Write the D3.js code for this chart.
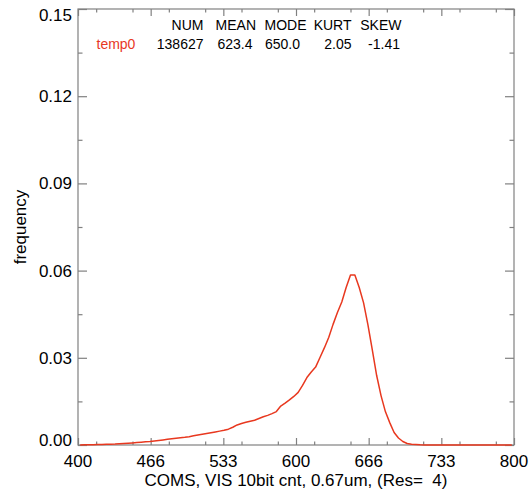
<!DOCTYPE html>
<html>
<head>
<meta charset="utf-8">
<script src="https://cdn.jsdelivr.net/npm/d3@7/dist/d3.min.js"></script>
<style>
  html, body { margin: 0; padding: 0; background: #fff; }
  svg text { font-family: "Liberation Sans", Arial, Helvetica, sans-serif; }
</style>
</head>
<body>
<svg id="chart" width="532" height="490"></svg>
<script>
// Histogram bin centres (Res = 4 counts) and relative frequency per bin
const binCenters = d3.range(402, 800, 4);
const frequency = [
  0.00001, 0.00005, 0.0001, 0.00012, 0.00015, 0.00018, 0.00022, 0.00026, 0.00031, 0.0004,   // 402-438
  0.0005, 0.0006, 0.0007, 0.00083, 0.00097, 0.0011, 0.0012, 0.0014, 0.00156, 0.00174,      // 442-478
  0.00194, 0.00215, 0.00232, 0.00249, 0.00265, 0.00285, 0.00317, 0.00347, 0.00372, 0.00397, // 482-518
  0.00424, 0.0045, 0.00477, 0.00505, 0.00545, 0.0061, 0.0069, 0.0074, 0.0078, 0.0082,       // 522-558
  0.00853, 0.0091, 0.0097, 0.0102, 0.0108, 0.0115, 0.0134, 0.0144, 0.0155, 0.0167,          // 562-598
  0.0181, 0.0205, 0.0232, 0.0251, 0.0268, 0.0301, 0.0334, 0.037, 0.0415, 0.0456,            // 602-638
  0.0492, 0.0542, 0.0585, 0.0585, 0.0542, 0.0489, 0.0413, 0.0327, 0.0239, 0.017,            // 642-678
  0.0115, 0.0077, 0.0043, 0.0024, 0.0012, 0.0005, 0.00024, 0.00014, 0.00007, 0.00004,       // 682-718
  0.00003, 0.00002, 0.00002, 0.00001, 0.00001, 0.00001, 0.00001, 0.00001, 0.00001, 0,       // 722-758
  0, 0, 0, 0, 0, 0, 0, 0, 0, 0                                                              // 762-798
];

// Axis ticks
const xTickValues = [400, 1400 / 3, 1600 / 3, 600, 2000 / 3, 2200 / 3, 800];
const xTickLabels = ["400", "466", "533", "600", "666", "733", "800"];
const yTickValues = [0, 0.03, 0.06, 0.09, 0.12, 0.15];
const yTickLabels = ["0.00", "0.03", "0.06", "0.09", "0.12", "0.15"];

// Statistics table
const statNames = ["NUM", "MEAN", "MODE", "KURT", "SKEW"];
const statValues = ["138627", "623.4", "650.0", "2.05", "-1.41"];
const seriesName = "temp0";

const xTitle = "COMS, VIS 10bit cnt, 0.67um, (Res=  4)";
const yTitle = "frequency";

// ---- layout ----
const plot = { left: 78, top: 9, right: 514, bottom: 445 };
const axisColor = "#808080";
const lineColor = "#e8381f";
const tickFont = 17;

const svg = d3.select("#chart");

const x = d3.scaleLinear().domain([400, 800]).range([plot.left, plot.right]);
const y = d3.scaleLinear().domain([0, 0.15]).range([plot.bottom, plot.top]);

const xMinor = d3.range(0, 12).map(i => 400 + (i + 0.5) * 100 / 3);
const yMinor = d3.range(0, 5).map(i => (i + 0.5) * 0.03);

function styleAxis(g) {
  g.select(".domain").remove();
  g.selectAll(".tick line").attr("stroke", axisColor).attr("stroke-width", 1.2);
  g.selectAll(".tick text").remove();
}

// ticks on all four sides, pointing into the plot
svg.append("g").attr("transform", `translate(0,${plot.bottom})`)
  .call(d3.axisBottom(x).tickValues(xTickValues).tickSize(-7)).call(styleAxis);
svg.append("g").attr("transform", `translate(0,${plot.bottom})`)
  .call(d3.axisBottom(x).tickValues(xMinor).tickSize(-3.5)).call(styleAxis);
svg.append("g").attr("transform", `translate(0,${plot.top})`)
  .call(d3.axisTop(x).tickValues(xTickValues).tickSize(-7)).call(styleAxis);
svg.append("g").attr("transform", `translate(0,${plot.top})`)
  .call(d3.axisTop(x).tickValues(xMinor).tickSize(-3.5)).call(styleAxis);

svg.append("g").attr("transform", `translate(${plot.left},0)`)
  .call(d3.axisLeft(y).tickValues(yTickValues).tickSize(-9)).call(styleAxis);
svg.append("g").attr("transform", `translate(${plot.left},0)`)
  .call(d3.axisLeft(y).tickValues(yMinor).tickSize(-4.5)).call(styleAxis);
svg.append("g").attr("transform", `translate(${plot.right},0)`)
  .call(d3.axisRight(y).tickValues(yTickValues).tickSize(-9)).call(styleAxis);
svg.append("g").attr("transform", `translate(${plot.right},0)`)
  .call(d3.axisRight(y).tickValues(yMinor).tickSize(-4.5)).call(styleAxis);

// frame
svg.append("rect")
  .attr("x", plot.left).attr("y", plot.top)
  .attr("width", plot.right - plot.left).attr("height", plot.bottom - plot.top)
  .attr("fill", "none").attr("stroke", axisColor).attr("stroke-width", 1.2);

// x tick labels
svg.append("g").selectAll("text").data(xTickValues).join("text")
  .attr("x", d => x(d)).attr("y", plot.bottom + 22)
  .attr("text-anchor", "middle").attr("font-size", tickFont).attr("fill", "#000")
  .text((d, i) => xTickLabels[i]);

// y tick labels, end labels kept inside the frame height
const halfCap = 5.5;
svg.append("g").selectAll("text").data(yTickValues).join("text")
  .attr("x", plot.left - 6)
  .attr("y", d => Math.min(Math.max(y(d), plot.top + halfCap), plot.bottom - halfCap) + 6)
  .attr("text-anchor", "end").attr("font-size", tickFont).attr("fill", "#000")
  .text((d, i) => yTickLabels[i]);

// axis titles
svg.append("text")
  .attr("x", (plot.left + plot.right) / 2).attr("y", 486)
  .attr("text-anchor", "middle").attr("font-size", tickFont).attr("fill", "#000")
  .style("white-space", "pre")
  .text(xTitle);

svg.append("text")
  .attr("transform", `translate(26,${(plot.top + plot.bottom) / 2}) rotate(-90)`)
  .attr("text-anchor", "middle").attr("font-size", tickFont).attr("fill", "#000")
  .text(yTitle);

// frequency curve
const line = d3.line()
  .x((d, i) => x(binCenters[i]))
  .y(d => y(d));

svg.append("path")
  .datum(frequency)
  .attr("fill", "none")
  .attr("stroke", lineColor)
  .attr("stroke-width", 1.5)
  .attr("stroke-linejoin", "round")
  .attr("d", line);

// statistics block
const statRightHead = [203.5, 256, 306.5, 351.5, 401.5];
const statRightVal = [203.5, 252.5, 300, 351.5, 400];
const statFont = 14;

svg.append("g").selectAll("text").data(statNames).join("text")
  .attr("x", (d, i) => statRightHead[i]).attr("y", 29.5)
  .attr("text-anchor", "end").attr("font-size", statFont).attr("fill", "#000")
  .text(d => d);

svg.append("g").selectAll("text").data(statValues).join("text")
  .attr("x", (d, i) => statRightVal[i]).attr("y", 48.5)
  .attr("text-anchor", "end").attr("font-size", statFont).attr("fill", "#000")
  .text(d => d);

svg.append("text")
  .attr("x", 96.5).attr("y", 48.5)
  .attr("font-size", statFont).attr("fill", lineColor)
  .text(seriesName);
</script>
</body>
</html>
